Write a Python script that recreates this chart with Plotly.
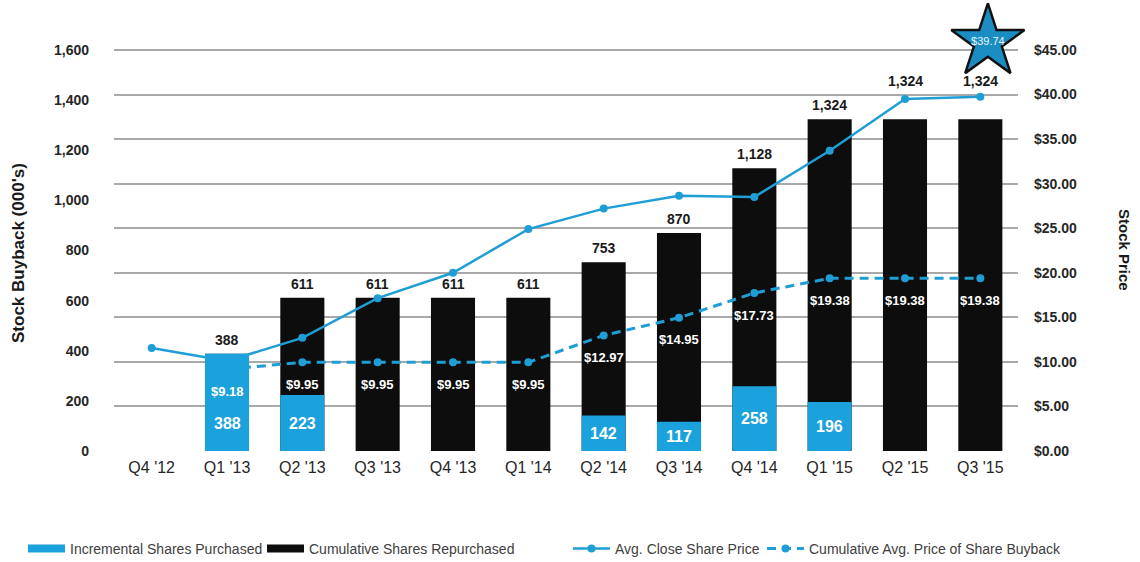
import plotly.graph_objects as go

# ---- data -------------------------------------------------------------
quarters = ["Q4 '12", "Q1 '13", "Q2 '13", "Q3 '13", "Q4 '13", "Q1 '14",
            "Q2 '14", "Q3 '14", "Q4 '14", "Q1 '15", "Q2 '15", "Q3 '15"]

# shares in thousands
incremental_shares = [None, 388, 223, None, None, None, 142, 117, 258, 196, None, None]
cumulative_shares = [None, 388, 611, 611, 611, 611, 753, 870, 1128, 1324, 1324, 1324]

# prices in $
avg_close_price = [11.55, 10.10, 12.70, 17.15, 20.00, 24.90,
                   27.20, 28.65, 28.50, 33.70, 39.50, 39.74]
cum_avg_buyback_price = [None, 9.18, 9.95, 9.95, 9.95, 9.95,
                         12.97, 14.95, 17.73, 19.38, 19.38, 19.38]

share_ticks = [0, 200, 400, 600, 800, 1000, 1200, 1400, 1600]
price_ticks = [0, 5, 10, 15, 20, 25, 30, 35, 40, 45]

# ---- styling ----------------------------------------------------------
FONT = "Arial, 'Liberation Sans', sans-serif"
BLUE = "#1ba1dc"
LINE_BLUE = "#1f9ed6"
BLACK = "#0d0d0d"
GRID = "#a9a9a9"
TEXT = "#262626"
BAR_WIDTH = 0.585

W, H = 1140, 562
plot_l, plot_r = 114, 1018          # plot area, px
axis_top, axis_bottom = 50, 451     # where the top tick and zero sit, px
plot_w = plot_r - plot_l

SHARE_MAX = share_ticks[-1]
PRICE_MAX = price_ticks[-1]
# the plot area runs to the top edge so the star call-out stays inside the range
headroom = axis_top / (axis_bottom - axis_top)
price_top = PRICE_MAX * (1 + headroom)
share_top = SHARE_MAX * (1 + headroom)


def paper_x(px):
    return (px - plot_l) / plot_w


def paper_y(py):
    return (axis_bottom - py) / axis_bottom


idx = list(range(len(quarters)))

fig = go.Figure()

# cumulative bars (behind everything)
fig.add_trace(go.Bar(
    x=idx, y=cumulative_shares, name="Cumulative Shares Repurchased",
    marker=dict(color=BLACK, line_width=0), width=BAR_WIDTH,
    yaxis="y", showlegend=False, hoverinfo="skip"))

# price lines on the right axis
fig.add_trace(go.Scatter(
    x=idx, y=avg_close_price, name="Avg. Close Share Price",
    mode="lines+markers", line=dict(color=LINE_BLUE, width=2.5),
    marker=dict(size=8, color=LINE_BLUE), yaxis="y2",
    legend="legend2", legendrank=3, legendwidth=142))
fig.add_trace(go.Scatter(
    x=idx, y=cum_avg_buyback_price, name="Cumulative Avg. Price of Share Buyback",
    mode="lines+markers", line=dict(color=LINE_BLUE, width=3, dash="9px,6px"),
    marker=dict(size=8, color=LINE_BLUE), yaxis="y2",
    legend="legend2", legendrank=4))

# incremental bars drawn over the lines
fig.add_trace(go.Bar(
    x=idx, y=incremental_shares, name="Incremental Shares Purchased",
    marker=dict(color=BLUE, line_width=0), width=BAR_WIDTH,
    yaxis="y3", showlegend=False, hoverinfo="skip"))

# wide swatches for the two bar series in the legend
fig.add_trace(go.Scatter(
    x=[None], y=[None], mode="lines", name="Incremental Shares Purchased",
    line=dict(color=BLUE, width=8), legend="legend", legendrank=1,
    legendwidth=187))
fig.add_trace(go.Scatter(
    x=[None], y=[None], mode="lines", name="Cumulative Shares Repurchased",
    line=dict(color=BLACK, width=8), legend="legend", legendrank=2))

# star call-out for the latest close price
fig.add_trace(go.Scatter(
    x=[idx[-1] + 0.1], y=[PRICE_MAX * 1.02], mode="markers+text",
    marker=dict(symbol="star", size=55, color="#1b8dc2",
                line=dict(color="#111111", width=2.5)),
    text=[f"${avg_close_price[-1]:.2f}"], textposition="middle center",
    textfont=dict(family=FONT, size=11, color="#e8f6ff"),
    yaxis="y2", cliponaxis=False, showlegend=False, hoverinfo="skip"))

annotations = []

# cumulative totals above the bars
total_lift = {10: 24, 11: 24}
for i, v in enumerate(cumulative_shares):
    if v is None:
        continue
    annotations.append(dict(
        x=i, y=v, xref="x", yref="y", text=f"{v:,}", showarrow=False,
        yanchor="bottom", yshift=4 + total_lift.get(i, 0),
        font=dict(family=FONT, size=14, color="#1a1a1a", weight="bold")))

# incremental values inside the blue bars
inc_nudge = {1: -21}
for i, v in enumerate(incremental_shares):
    if v is None:
        continue
    annotations.append(dict(
        x=i, y=v / 2, xref="x", yref="y", text=f"{v:,}", showarrow=False,
        yshift=inc_nudge.get(i, 0),
        font=dict(family=FONT, size=16, color="white", weight="bold")))

# buyback average price labels under the dashed markers
for i, v in enumerate(cum_avg_buyback_price):
    if v is None:
        continue
    annotations.append(dict(
        x=i, y=v, xref="x", yref="y2", text=f"${v:.2f}", showarrow=False,
        yshift=-22,
        font=dict(family=FONT, size=13, color="white", weight="bold")))

# axis titles
annotations.append(dict(
    x=paper_x(18), y=paper_y(253), xref="paper", yref="paper",
    xanchor="center", yanchor="middle",
    text="Stock Buyback (000's)", textangle=-90, showarrow=False,
    font=dict(family=FONT, size=17, color="#1a1a1a", weight="bold")))
annotations.append(dict(
    x=paper_x(1125), y=paper_y(250), xref="paper", yref="paper",
    xanchor="center", yanchor="middle",
    text="Stock Price", textangle=90, showarrow=False,
    font=dict(family=FONT, size=15, color="#1a1a1a", weight="bold")))

legend_font = dict(family=FONT, size=14, color="#404040")

fig.update_layout(
    width=W, height=H,
    margin=dict(l=plot_l, r=W - plot_r, t=0, b=H - axis_bottom, autoexpand=False),
    paper_bgcolor="white", plot_bgcolor="white",
    barmode="overlay",
    font=dict(family=FONT, color=TEXT),
    annotations=annotations,
    xaxis=dict(range=[-0.5, len(quarters) - 0.5], tickvals=idx, ticktext=quarters,
               showgrid=False, zeroline=False, showline=False, ticks="",
               ticklabelstandoff=5,
               tickfont=dict(family=FONT, size=16, color=TEXT)),
    yaxis=dict(range=[0, share_top],
               tickvals=[p * SHARE_MAX / PRICE_MAX for p in price_ticks],
               showticklabels=False, showgrid=True, gridcolor=GRID, gridwidth=1.5,
               zeroline=False, showline=False),
    yaxis2=dict(range=[0, price_top], overlaying="y", side="right",
                tickvals=price_ticks, ticktext=[f"${p:.2f}" for p in price_ticks],
                showgrid=False, zeroline=False, showline=False,
                ticklabelstandoff=15,
                tickfont=dict(family=FONT, size=14, color=TEXT, weight="bold")),
    yaxis3=dict(range=[0, share_top], overlaying="y", side="left",
                tickvals=share_ticks, ticktext=[f"{v:,}" for v in share_ticks],
                showgrid=False, zeroline=False, showline=False,
                ticklabelstandoff=24,
                tickfont=dict(family=FONT, size=14, color=TEXT, weight="bold")),
    legend=dict(orientation="h", xref="container", yref="container",
                x=23 / W, xanchor="left", y=1 - 549 / H, yanchor="middle",
                itemwidth=37, font=legend_font, bgcolor="rgba(0,0,0,0)"),
    legend2=dict(orientation="h", xref="container", yref="container",
                 x=568 / W, xanchor="left", y=1 - 549 / H, yanchor="middle",
                 itemwidth=37, font=legend_font, bgcolor="rgba(0,0,0,0)"),
)

fig.write_html("out.html")
